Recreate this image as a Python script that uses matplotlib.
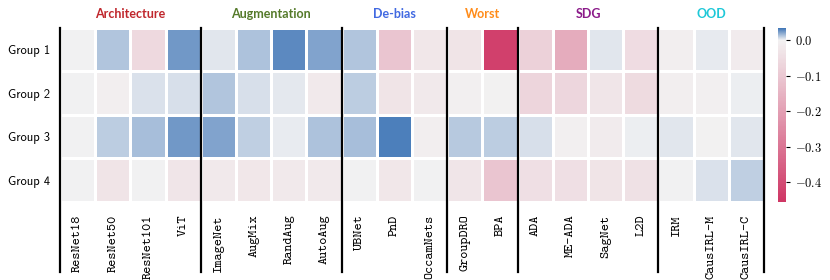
import matplotlib
matplotlib.use("Agg")
import matplotlib.pyplot as plt
import matplotlib.colors as mcolors
import matplotlib.transforms as mtransforms
from matplotlib.ticker import FuncFormatter
import numpy as np
import seaborn as sns

plt.rcParams["mathtext.fontset"] = "cm"

# Methods (columns) and groups (rows)
methods = [
    "ResNet18", "ResNet50", "ResNet101", "ViT",
    "ImageNet", "AugMix", "RandAug", "AutoAug",
    "UBNet", "PnD", "OccamNets",
    "GroupDRO", "BPA",
    "ADA", "ME-ADA", "SagNet", "L2D",
    "IRM", "CausIRL-M", "CausIRL-C",
]
groups = ["Group 1", "Group 2", "Group 3", "Group 4"]

# Method families: name, colour, number of columns
family_names = ["Architecture", "Augmentation", "De-bias", "Worst", "SDG", "OOD"]
family_colors = ["#c0272d", "#557a2a", "#4169e1", "#ff8c1a", "#8b1a89", "#1ec8d8"]
family_sizes = [4, 4, 3, 2, 4, 3]

# Values
group1 = [0.000, 0.012, -0.060, 0.024, 0.003, 0.013, 0.028, 0.021, 0.012, -0.110,
          -0.025, -0.035, -0.430, -0.080, -0.170, 0.003, -0.050, -0.010, 0.002, -0.015]
group2 = [0.000, -0.010, 0.0045, 0.005, 0.012, 0.005, 0.0025, -0.020, 0.010, -0.035,
          -0.020, -0.005, -0.003, -0.070, -0.065, -0.030, -0.055, -0.008, -0.005, 0.001]
group3 = [0.000, 0.010, 0.014, 0.024, 0.021, 0.0095, 0.0017, 0.013, 0.014, 0.031,
          -0.010, 0.011, 0.010, 0.005, -0.005, -0.015, 0.001, 0.003, -0.003, 0.003]
group4 = [0.000, -0.035, 0.000, -0.030, -0.020, -0.025, -0.020, -0.020, 0.000, -0.025,
          0.000, -0.030, -0.110, -0.045, -0.045, -0.035, -0.040, 0.000, 0.0045, 0.0095]

data = np.array([group1, group2, group3, group4])

cmap = sns.diverging_palette(0, 250, s=78, l=48, as_cmap=True)
norm = mcolors.TwoSlopeNorm(vmin=-0.455, vcenter=0.0, vmax=0.034)

fig = plt.figure(figsize=(8.3, 2.8), dpi=100)
ax = fig.add_axes([0.0723, 0.2786, 0.8482, 0.6214])
cax = fig.add_axes([0.9373, 0.2786, 0.0096, 0.6214])

mesh = ax.pcolormesh(data, cmap=cmap, norm=norm, edgecolors="white", linewidth=1.0)
ax.set_xlim(0, len(methods))
ax.set_ylim(len(groups), 0)

ax.set_xticks(np.arange(len(methods)) + 0.5)
ax.set_xticklabels(methods, rotation=90, family="cmtt10", fontsize=9.8)
ax.set_yticks(np.arange(len(groups)) + 0.5)
ax.set_yticklabels(groups, family="cmss10", fontsize=9)
ax.tick_params(length=0, pad=7)
ax.tick_params(axis="x", pad=9)
for s in ax.spines.values():
    s.set_visible(False)

# family separators and headers
trans = mtransforms.blended_transform_factory(ax.transData, ax.transAxes)
bounds = np.concatenate([[0], np.cumsum(family_sizes)])
for b in bounds:
    ax.plot([b, b], [1.0, -0.40], color="black", lw=1.6, transform=trans, clip_on=False)
for name, col, lo, hi in zip(family_names, family_colors, bounds[:-1], bounds[1:]):
    ax.text((lo + hi) / 2, 1.08, name, color=col, fontsize=9, fontweight="bold",
            family="Lato", ha="center", va="center", transform=trans)

# colorbar
cb = fig.colorbar(mesh, cax=cax)
cb.ax.set_yscale("linear")
cb.set_ticks([0.0, -0.1, -0.2, -0.3, -0.4])
cb.ax.yaxis.set_major_formatter(FuncFormatter(lambda v, p: f"${v:.1f}$"))
cb.ax.tick_params(labelsize=9, length=3, width=0.8)
cb.outline.set_visible(False)

fig.savefig("out.png", dpi=100)
